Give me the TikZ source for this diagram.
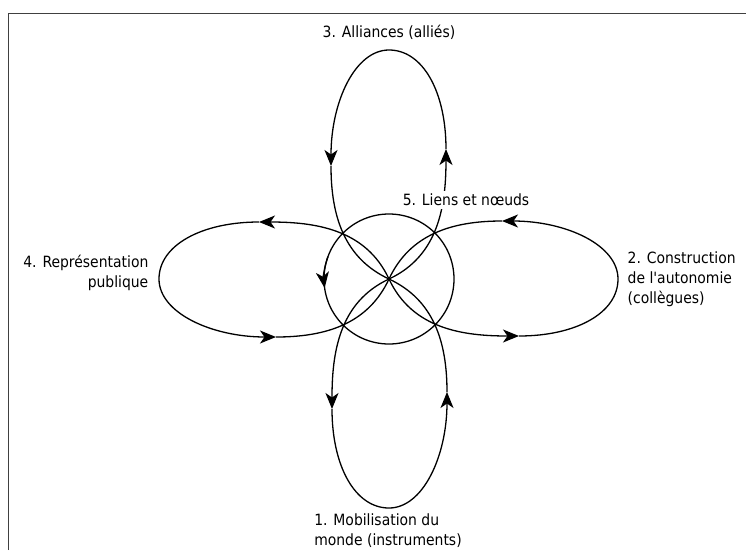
\documentclass[tikz,border=0pt]{standalone}
\usepackage{fontspec}
\setmainfont{DejaVu Sans Condensed}
\usetikzlibrary{arrows.meta,positioning}

\begin{document}
\begin{tikzpicture}[x=1pt, y=1pt, line width=1.3pt,
		flow/.style={-{Stealth[length=16pt, width=13pt, inset=4.5pt]}},
		lbl/.style={inner sep=1pt, font=\fontsize{15.5}{20}\selectfont}]
	\useasboundingbox (-389,-271) rectangle (357,279);
	\draw[line width=0.9pt, black!75] (-381,-271) -- (-381,266) -- (357,266);

	\coordinate (c) at (0, 0);
	\coordinate (al-o) at (57, 130);
	\coordinate (al-tip) at (0, 229);
	\coordinate (al-i) at (-58, 113);
	\coordinate (co-o) at (130, -57);
	\coordinate (co-tip) at (229, 0);
	\coordinate (co-i) at (113, 58);
	\coordinate (rp-o) at (-130, 57);
	\coordinate (rp-tip) at (-230, 0);
	\coordinate (rp-i) at (-113, -58);
	\coordinate (mo-o) at (-57, -130);
	\coordinate (mo-tip) at (0, -229);
	\coordinate (mo-i) at (58, -113);

	\draw[flow] (c) to[out=25, in=-90] (al-o);
	\draw[flow] (al-o) .. controls +(0,57) and +(34,0) .. (al-tip) .. controls +(-34,0) and +(0,64) .. (al-i);
	\draw (al-i) to[out=-90, in=155] (c);

	\draw[flow] (c) to[out=-65, in=180] (co-o);
	\draw[flow] (co-o) .. controls +(57,0) and +(0,-34) .. (co-tip) .. controls +(0,34) and +(64,0) .. (co-i);
	\draw (co-i) to[out=180, in=65] (c);

	\draw[flow] (c) to[out=115, in=0] (rp-o);
	\draw[flow] (rp-o) .. controls +(-57,0) and +(0,34) .. (rp-tip) .. controls +(0,-34) and +(-64,0) .. (rp-i);
	\draw (rp-i) to[out=0, in=-115] (c);

	\draw[flow] (c) to[out=205, in=90] (mo-o);
	\draw[flow] (mo-o) .. controls +(0,-57) and +(-34,0) .. (mo-tip) .. controls +(34,0) and +(0,-64) .. (mo-i);
	\draw (mo-i) to[out=90, in=-25] (c);

	\node[draw, circle, minimum size=130pt, inner sep=0pt, outer sep=0pt] (knot) at (c) {};
	\draw[flow] (knot.160) arc[start angle=160, end angle=188, radius=65pt];

	\node[lbl, above=9pt of al-tip] (al-lbl) {3. Alliances (alliés)};
	\node[lbl, right=8pt of co-tip, align=left] (co-lbl) {2. Construction\\de l\textquotesingle autonomie\\(collègues)};
	\node[lbl, left=9pt of rp-tip, align=right, yshift=6pt] (rp-lbl) {4. Représentation\\publique};
	\node[lbl, below=4pt of mo-tip, align=left, xshift=-1pt] (mo-lbl) {1. Mobilisation du\\monde (instruments)};
	\node[lbl, fill=white, inner sep=3pt] (kn-lbl) at (77, 79) {5. Liens et nœuds};
\end{tikzpicture}
\end{document}
